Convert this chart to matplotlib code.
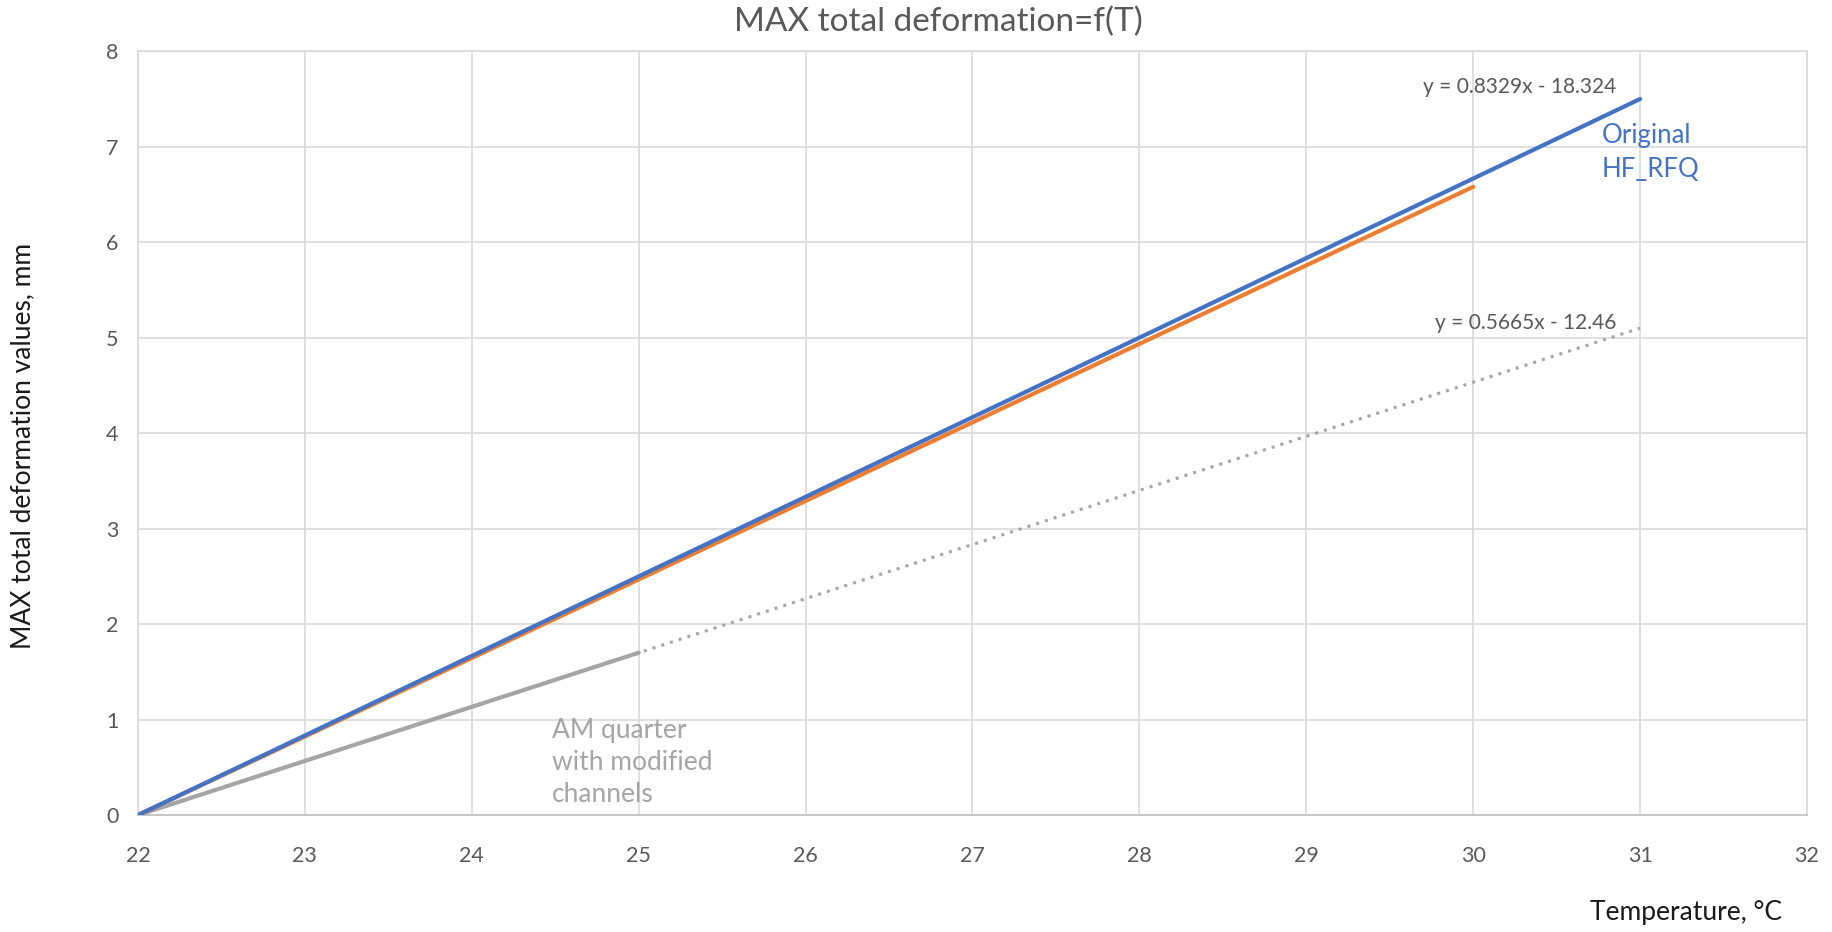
import matplotlib.pyplot as plt

# series
temp_hf = [22, 31]
defo_hf = [0.0, 7.50]
temp_orange = [22, 30]
defo_orange = [0.0, 6.58]
temp_am = [22, 25]
defo_am = [0.0, 1.70]
# linear trendline of the AM series (drawn dotted)
trend_am_x = [22, 31]
trend_am_y = [0.0, 5.10]

x_ticks = list(range(22, 33))
y_ticks = list(range(0, 9))

blue = "#4472C4"
orange = "#ED7D31"
grey = "#A5A5A5"
text_grey = "#595959"

plt.rcParams['font.family'] = ['Lato', 'DejaVu Sans']

fig = plt.figure(figsize=(18.33, 9.32), dpi=100)
ax = fig.add_axes([0.0753, 0.1255, 0.9105, 0.8195])

ax.plot(trend_am_x, trend_am_y, color=grey, lw=2.2, ls=(0, (1, 2)), zorder=2)
ax.plot(temp_am, defo_am, color=grey, lw=3, zorder=3, solid_capstyle="round")
ax.plot(temp_orange, defo_orange, color=orange, lw=3, zorder=3, solid_capstyle="round")
ax.plot(temp_hf, defo_hf, color=blue, lw=3, zorder=4, solid_capstyle="round")

ax.set_xlim(22, 32)
ax.set_ylim(0, 8)
ax.set_xticks(x_ticks)
ax.set_yticks(y_ticks)
ax.grid(True, color="#D9D9D9", lw=1.2)
ax.set_axisbelow(True)
for s in ax.spines.values():
    s.set_color("#D9D9D9")
    s.set_linewidth(1.2)
ax.spines["bottom"].set_color("#BFBFBF")
ax.tick_params(length=0, labelsize=15.5, labelcolor=text_grey)
ax.tick_params(axis="x", pad=22)
ax.tick_params(axis="y", pad=14)

ax.text(30.86, 7.52, "y = 0.8329x - 18.324", ha="right", va="bottom",
        fontsize=15, color=text_grey)
ax.text(30.86, 5.05, "y = 0.5665x - 12.46", ha="right", va="bottom",
        fontsize=15, color=text_grey)
ax.text(30.77, 7.25, "Original\nHF_RFQ", ha="left", va="top",
        fontsize=18.5, color=blue, linespacing=1.45)
ax.text(24.48, 1.02, "AM quarter\nwith modified\nchannels", ha="left", va="top",
        fontsize=19, color=grey, linespacing=1.35)

fig.text(0.512, 0.977, "MAX total deformation=f(T)", ha="center", va="center",
         fontsize=24, color=text_grey)
fig.text(0.0125, 0.521, "MAX total deformation values, mm", rotation=90,
         ha="center", va="center", fontsize=19, color="#1a1a1a")
fig.text(0.92, 0.021, "Temperature, °C", ha="center", va="center",
         fontsize=19, color="#1a1a1a")

fig.savefig("out.png", dpi=100, facecolor="white")
